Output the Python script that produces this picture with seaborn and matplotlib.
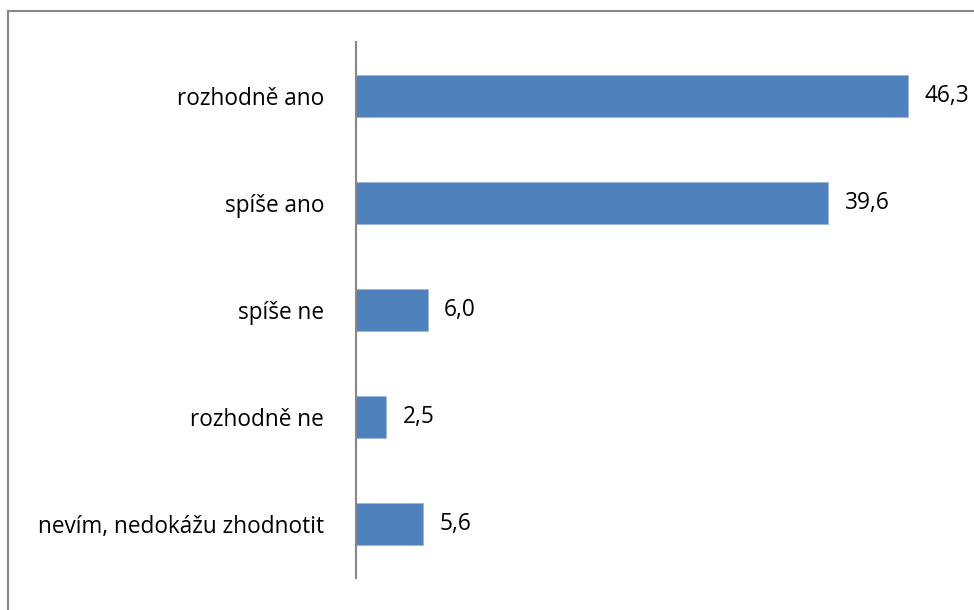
import matplotlib
matplotlib.use('Agg')
import matplotlib.pyplot as plt
import pandas as pd
import seaborn as sns
from matplotlib.patches import Rectangle

categories = ['rozhodně ano', 'spíše ano', 'spíše ne', 'rozhodně ne',
              'nevím, nedokážu zhodnotit']
values = [46.3, 39.6, 6.0, 2.5, 5.6]

BAR_COLOR = '#4F81BD'
W, H = 974, 610

sns.set_style('white')
plt.rcParams['font.family'] = ['Open Sans', 'DejaVu Sans']

df = pd.DataFrame({'cat': categories, 'val': values})

fig = plt.figure(figsize=(W / 100, H / 100), dpi=100)
ax = fig.add_axes([356 / W, 1 - 578 / H, (952 - 356) / W, (578 - 42) / H])

sns.barplot(data=df, x='val', y='cat', orient='h', color=BAR_COLOR,
            saturation=1, width=0.39, ax=ax, edgecolor='#9DB7DD', linewidth=0.6)

ax.set_xlim(0, 50)
ax.set_ylim(len(categories) - 0.5, -0.5)
ax.set_xlabel('')
ax.set_ylabel('')
ax.set_xticks([])
ax.tick_params(axis='y', length=0, pad=23, labelsize=16.3, labelcolor='black')
for side in ['top', 'right', 'bottom']:
    ax.spines[side].set_visible(False)
ax.spines['left'].set_color('#888888')
ax.spines['left'].set_linewidth(1.5)

for i, v in enumerate(values):
    ax.text(v + 1.4, i, f'{v:.1f}'.replace('.', ','), va='center', ha='left',
            fontsize=16.3, color='black')

fig.patches.append(Rectangle((7.5 / W, -0.1), 1.2, 1 - 11.5 / H + 0.1,
                             transform=fig.transFigure, fill=False,
                             edgecolor='#888888', linewidth=1.5))

fig.savefig('out.png', dpi=100)
